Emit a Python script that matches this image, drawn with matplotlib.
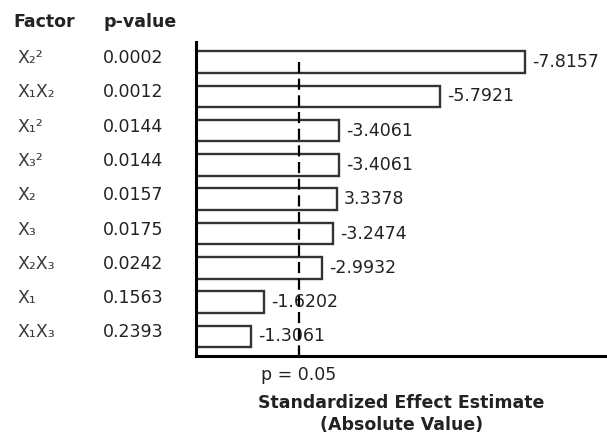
import numpy as np
import matplotlib.pyplot as plt
import matplotlib.transforms as mtransforms

plt.rcParams['font.family'] = ['DejaVu Sans']

# chart data
factors = ['X₂²', 'X₁X₂', 'X₁²', 'X₃²', 'X₂', 'X₃', 'X₂X₃', 'X₁', 'X₁X₃']
p_values = ['0.0002', '0.0012', '0.0144', '0.0144', '0.0157', '0.0175', '0.0242', '0.1563', '0.2393']
effects = [-7.8157, -5.7921, -3.4061, -3.4061, 3.3378, -3.2474, -2.9932, -1.6202, -1.3061]
p_crit = 2.447

W, H = 607, 441
FS = 12.5
fig = plt.figure(figsize=(W / 100, H / 100), dpi=100)
ax = fig.add_axes([196 / W, 1 - 356 / H, 1 - 196 / W, (356 - 42) / H])

y = np.arange(len(effects))
ax.barh(y, np.abs(effects), height=0.63, color='white', edgecolor='#333333', linewidth=1.7, zorder=2)
for yi, v in zip(y, effects):
    ax.text(abs(v) + 0.17, yi, f'{v:g}', va='center', ha='left',
            fontsize=FS, color='#222222', zorder=3)

ax.plot([p_crit, p_crit], [0, len(effects) - 0.43], color='black', lw=1.6,
        linestyle=(0, (5, 2.5)), zorder=4)

ax.set_xlim(0, 9.76)
ax.set_ylim(len(effects) - 0.43, -0.585)
ax.spines['top'].set_visible(False)
ax.spines['right'].set_visible(False)
ax.spines['left'].set_linewidth(2.2)
ax.spines['bottom'].set_linewidth(2.2)
ax.spines['left'].set_capstyle('projecting')
ax.spines['bottom'].set_capstyle('projecting')
ax.set_yticks([])
ax.set_xticks([p_crit])
ax.set_xticklabels(['p = 0.05'], fontsize=FS, color='#222222')
ax.tick_params(axis='x', direction='in', length=5, width=1.5, pad=7.5)
ax.set_xlabel('Standardized Effect Estimate\n(Absolute Value)', fontsize=FS,
              fontweight='bold', color='#222222', labelpad=7, linespacing=1.25)

# left-hand table, rows sit a few pixels above the bar centres
trans = mtransforms.blended_transform_factory(fig.transFigure, ax.transData)
trans = trans + mtransforms.ScaledTranslation(0, 4 / 100, fig.dpi_scale_trans)
for yi, f, p in zip(y, factors, p_values):
    fig.text(17 / W, yi, f, transform=trans, va='center', ha='left', fontsize=FS, color='#3a3a3a')
    fig.text(103 / W, yi, p, transform=trans, va='center', ha='left', fontsize=FS, color='#222222')
fig.text(13 / W, 1 - 27 / H, 'Factor', va='baseline', ha='left', fontsize=FS, fontweight='bold', color='#222222')
fig.text(103 / W, 1 - 27 / H, 'p-value', va='baseline', ha='left', fontsize=FS, fontweight='bold', color='#222222')

fig.savefig('out.png', dpi=100)
